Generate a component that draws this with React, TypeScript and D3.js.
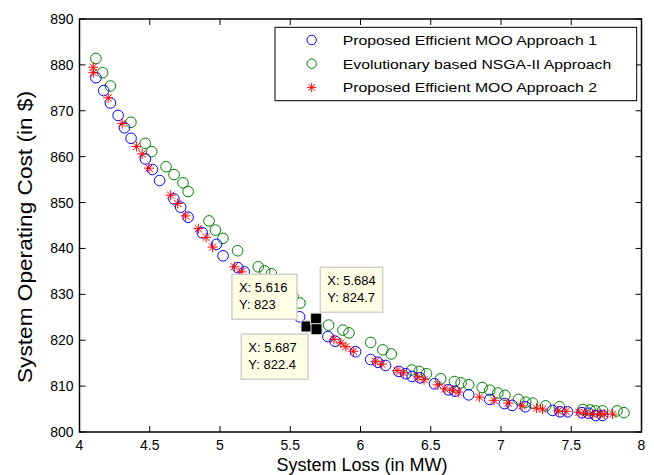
import React from 'react'
import * as d3 from 'd3'

// Proposed Efficient MOO Approach 1 (blue circles)
const lossA1 = [4.117, 4.172, 4.220, 4.275, 4.320, 4.367, 4.469, 4.519, 4.570, 4.672, 4.720, 4.773, 4.874, 4.975, 5.022, 5.127, 5.173, 5.567, 5.616, 5.768, 5.819, 5.965, 6.072, 6.124, 6.178, 6.273, 6.323, 6.368, 6.424, 6.527, 6.626, 6.672, 6.770, 6.920, 7.024, 7.079, 7.173, 7.367, 7.420, 7.474, 7.576, 7.623, 7.674, 7.723]
const costA1 = [877.2, 874.4, 871.7, 869.0, 866.3, 864.0, 859.5, 857.2, 854.8, 850.8, 849.0, 846.8, 843.4, 840.9, 838.4, 835.8, 834.9, 825.1, 823.0, 820.8, 819.8, 817.5, 815.8, 815.2, 814.5, 813.2, 812.7, 812.1, 811.8, 810.5, 809.2, 808.9, 808.1, 807.1, 806.2, 805.8, 805.5, 804.7, 804.4, 804.4, 804.2, 804.1, 803.6, 803.6]

// Evolutionary based NSGA-II Approach (green circles)
const lossNsga = [4.117, 4.165, 4.220, 4.366, 4.468, 4.514, 4.616, 4.673, 4.737, 4.773, 4.922, 4.967, 5.021, 5.125, 5.272, 5.318, 5.366, 5.520, 5.569, 5.684, 5.773, 5.875, 5.918, 6.072, 6.159, 6.219, 6.365, 6.418, 6.470, 6.571, 6.669, 6.716, 6.770, 6.866, 6.920, 6.977, 7.028, 7.125, 7.176, 7.225, 7.318, 7.415, 7.584, 7.634, 7.671, 7.723, 7.826, 7.875]
const costNsga = [881.4, 878.3, 875.4, 867.5, 862.9, 861.1, 857.8, 856.1, 854.3, 852.4, 846.0, 844.0, 842.2, 839.5, 836.0, 835.1, 834.5, 829.5, 828.1, 824.7, 823.3, 822.2, 821.6, 819.5, 817.9, 817.0, 813.5, 813.2, 812.7, 811.6, 811.0, 810.7, 810.3, 809.7, 809.1, 808.5, 808.0, 807.1, 806.5, 806.3, 805.7, 805.5, 804.9, 804.8, 804.6, 804.6, 804.6, 804.2]

// Proposed Efficient MOO Approach 2 (red stars)
const lossA2 = [4.098, 4.098, 4.204, 4.304, 4.405, 4.446, 4.494, 4.649, 4.699, 4.755, 4.846, 4.901, 4.947, 5.102, 5.153, 5.687, 5.811, 5.860, 5.896, 5.949, 6.107, 6.151, 6.260, 6.305, 6.408, 6.452, 6.550, 6.601, 6.655, 6.696, 6.846, 6.950, 7.051, 7.150, 7.252, 7.296, 7.407, 7.463, 7.555, 7.602, 7.652, 7.703, 7.735, 7.794]
const costA2 = [879.5, 878.3, 872.8, 867.2, 862.2, 860.6, 857.5, 851.6, 849.8, 847.1, 844.3, 842.4, 840.3, 836.0, 834.9, 822.4, 820.2, 819.4, 818.6, 817.6, 815.4, 814.8, 813.4, 812.9, 812.0, 811.4, 810.3, 809.4, 809.1, 808.7, 807.6, 806.9, 806.3, 805.7, 805.2, 805.0, 804.6, 804.5, 804.3, 804.1, 803.9, 803.9, 803.9, 803.9]

const seriesNames = ['Proposed Efficient MOO Approach 1', 'Evolutionary based NSGA-II Approach', 'Proposed Efficient MOO Approach 2']

// data tips
const tipX = [5.616, 5.684, 5.687]
const tipY = [823, 824.7, 822.4]
const tipLabelX = ['5.616', '5.684', '5.687']
const tipLabelY = ['823', '824.7', '822.4']

const xTicks = [4, 4.5, 5, 5.5, 6, 6.5, 7, 7.5, 8]
const yTicks = [800, 810, 820, 830, 840, 850, 860, 870, 880, 890]

const W = 654, H = 475
const left = 79.5, right = 641.5, top = 19, bottom = 432
const font = 'Liberation Sans, Arial, Helvetica, sans-serif'

function Star({ x, y, s = 5 }: { x: number; y: number; s?: number }) {
  const d = s * 0.72
  return (
    <g stroke="#ff0000" strokeWidth={1}>
      <line x1={x - s} y1={y} x2={x + s} y2={y} />
      <line x1={x} y1={y - s} x2={x} y2={y + s} />
      <line x1={x - d} y1={y - d} x2={x + d} y2={y + d} />
      <line x1={x - d} y1={y + d} x2={x + d} y2={y - d} />
    </g>
  )
}

export default function App() {
  const x = d3.scaleLinear().domain([4, 8]).range([left, right])
  const y = d3.scaleLinear().domain([800, 890]).range([bottom, top])
  const r = 5.3

  // where each tip box sits relative to its point
  const boxes = [
    { dx: -74.6, dy: -52.2 },
    { dx: 4.2, dy: -51.4 },
    { dx: -75.2, dy: 5 }
  ]
  const boxW = [65, 62.3, 66.8]
  const boxH = 45

  return (
    <svg width={W} height={H} style={{ position: 'absolute', left: 0, top: 0, background: '#fff' }} fontFamily={font}>
      <rect x={0} y={0} width={W} height={H} fill="#fff" />

      {/* series */}
      {lossNsga.map((v, i) => (
        <circle key={'g' + i} cx={x(v)} cy={y(costNsga[i])} r={r} fill="none" stroke="#008000" strokeWidth={1} />
      ))}
      {lossA1.map((v, i) => (
        <circle key={'b' + i} cx={x(v)} cy={y(costA1[i])} r={r} fill="none" stroke="#0000ff" strokeWidth={1} />
      ))}
      {lossA2.map((v, i) => (
        <Star key={'r' + i} x={x(v)} y={y(costA2[i])} />
      ))}

      {/* axes box */}
      <rect x={left} y={top} width={right - left} height={bottom - top} fill="none" stroke="#000" strokeWidth={1.5} />
      {xTicks.map(t => (
        <g key={'xt' + t}>
          <line x1={x(t)} x2={x(t)} y1={bottom} y2={bottom - 6} stroke="#000" />
          <line x1={x(t)} x2={x(t)} y1={top} y2={top + 6} stroke="#000" />
          <text x={x(t)} y={bottom + 18} fontSize={14} textAnchor="middle">{t}</text>
        </g>
      ))}
      {yTicks.map(t => (
        <g key={'yt' + t}>
          <line x1={left} x2={left + 6} y1={y(t)} y2={y(t)} stroke="#000" />
          <line x1={right} x2={right - 6} y1={y(t)} y2={y(t)} stroke="#000" />
          <text x={left - 6} y={y(t) + 5} fontSize={14} textAnchor="end">{t}</text>
        </g>
      ))}
      <text x={362} y={471} fontSize={18} textAnchor="middle">System Loss (in MW)</text>
      <text transform="translate(32,237) rotate(-90)" fontSize={21} textAnchor="middle" textLength={292} lengthAdjust="spacingAndGlyphs">System Operating Cost (in $)</text>

      {/* legend */}
      <rect x={275} y={27.3} width={361.7} height={73.4} fill="#fff" stroke="#000" strokeWidth={1} />
      {seriesNames.map((name, i) => {
        const ly = 40 + i * 23.7
        return (
          <g key={'lg' + i}>
            {i === 2 ? (
              <Star x={311.7} y={ly} s={4.5} />
            ) : (
              <circle cx={311.7} cy={ly} r={4.7} fill="none" stroke={i === 0 ? '#0000ff' : '#008000'} />
            )}
            <text transform={`translate(342.7,${ly + 5}) scale(1.17,1)`} fontSize={13.5}>{name}</text>
          </g>
        )
      })}

      {/* data tips */}
      {tipX.map((v, i) => {
        const px = x(v), py = y(tipY[i])
        const bx = px + boxes[i].dx, by = py + boxes[i].dy
        return (
          <g key={'tip' + i}>
            <rect x={bx} y={by} width={boxW[i]} height={boxH} fill="#ffffe6" stroke="#d0d0d0" strokeWidth={1.5} />
            <text x={bx + 7} y={by + 18} fontSize={13}>{'X: ' + tipLabelX[i]}</text>
            <text x={bx + 7} y={by + 35} fontSize={13}>{'Y: ' + tipLabelY[i]}</text>
          </g>
        )
      })}
      {tipX.map((v, i) => (
        <rect key={'sq' + i} x={x(v) - 5.5} y={y(tipY[i]) - 5.5} width={11} height={11} fill="#000" stroke="#e0e0e0" strokeWidth={1} />
      ))}
    </svg>
  )
}
